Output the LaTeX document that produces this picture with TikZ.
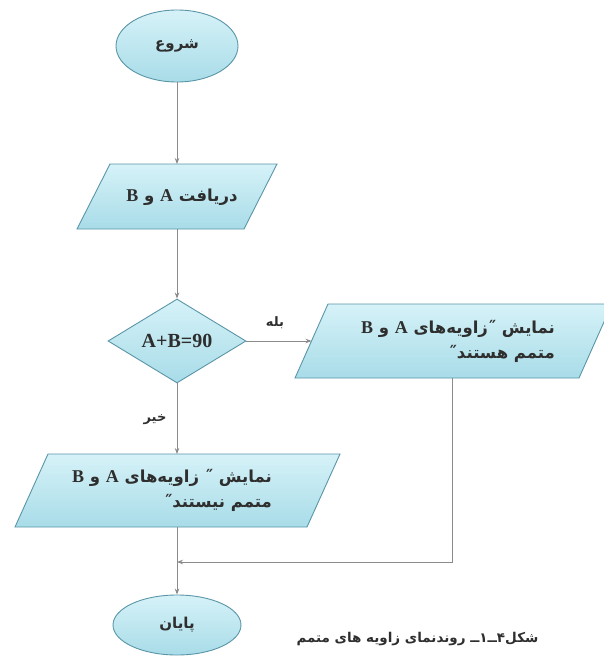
\documentclass[tikz,border=0pt]{standalone}
\usepackage{fontspec}
\usetikzlibrary{shapes.geometric,arrows.meta}
\TeXXeTstate=1
\newfontfamily\arabicfont[Script=Arabic]{DejaVu Sans}
\newfontfamily\latinfont{Liberation Serif}
\definecolor{edgec}{HTML}{5A95A8}
\definecolor{fillA}{HTML}{D6F2F8}
\definecolor{fillB}{HTML}{A8DCE8}
\definecolor{wire}{HTML}{8A8A8A}
\definecolor{ink}{HTML}{2E2E2E}
\newcommand{\Lt}[1]{{\latinfont\fontsize{18}{25}\selectfont #1}}
\tikzset{
  box/.style={draw=edgec, line width=0.9pt, top color=fillA, bottom color=fillB, text=ink, inner sep=0pt},
  term/.style={box, ellipse},
  cond/.style={box, diamond, minimum width=138pt, minimum height=84pt, aspect=1.64},
  wirec/.style={draw=wire, line width=0.8pt},
  arr/.style={wirec, -{Stealth[length=6pt,width=4.5pt]}},
  ar/.style={font=\arabicfont\bfseries\fontsize{16.5}{25}\selectfont, text=ink, inner sep=0pt},
  tm/.style={font=\arabicfont\bfseries\fontsize{15}{18}\selectfont, text=ink},
  lbl/.style={font=\arabicfont\bfseries\fontsize{13}{16}\selectfont, text=ink}
}
\begin{document}
\begin{tikzpicture}[x=1pt,y=-1pt]
\useasboundingbox (0,0) rectangle (604,666);
% terminals
\node[term, tm, minimum width=122pt, minimum height=72pt] (s) at (177,46) {\beginR شروع\endR};
\node[term, tm, minimum width=128pt, minimum height=60pt] (e) at (177,625) {\beginR پایان\endR};
% input parallelogram
\path[box] (77,229) coordinate (p1bl) -- (110,164) coordinate (p1tl) -- (277,164) coordinate (p1tr)
      -- (244,229) coordinate (p1br) -- cycle;
\coordinate (p1top) at (177,164);
\coordinate (p1bot) at (177,229);
\node[ar] (p1) at (182,197) {\beginR دریافت \Lt{A} و \Lt{B}\endR};
% decision
\node[cond, font=\latinfont\bfseries\fontsize{20}{22}\selectfont] (d) at (177,341) {A+B=90};
% output: yes
\path[box] (295,378) coordinate (p2bl) -- (328,304) coordinate (p2tl) -- (612,304) coordinate (p2tr)
      -- (579,378) coordinate (p2br) -- cycle;
\coordinate (p2left) at (311.5,341);
\coordinate (p2bot) at (452,378);
\node[ar, align=right] (p2) at (458,341)
      {\beginR نمایش ˝زاویه^^^^200cهای \Lt{A} و \Lt{B}\endR\\\beginR متمم هستند˝\endR};
% output: no
\path[box] (15,527) coordinate (p3bl) -- (48,454) coordinate (p3tl) -- (340,454) coordinate (p3tr)
      -- (307,527) coordinate (p3br) -- cycle;
\coordinate (p3top) at (177,454);
\coordinate (p3bot) at (177,527);
\node[ar, align=right] (p3) at (172,490)
      {\beginR نمایش ˝ زاویه^^^^200cهای \Lt{A} و \Lt{B}\endR\\\beginR متمم نیستند˝\endR};
\coordinate (j) at (177,562);
% labels
\node[lbl] (yes) at (275,323) {\beginR بله\endR};
\node[lbl] (no) at (155,420) {\beginR خیر\endR};
\node[font=\arabicfont\bfseries\fontsize{13.5}{16}\selectfont, text=ink, anchor=west] (cap) at (293,639)
      {\beginR شکل۴ــ۱ــ روندنمای زاویه های متمم\endR};
% connectors
\draw[arr] (s) -- (p1top);
\draw[arr] (p1bot) -- (d.north);
\draw[arr] (d.east) -- (p2left);
\draw[arr] (d.south) -- (p3top);
\draw[arr] (p2bot) |- (j);
\draw[arr] (p3bot) -- (e.north);
\end{tikzpicture}
\end{document}
